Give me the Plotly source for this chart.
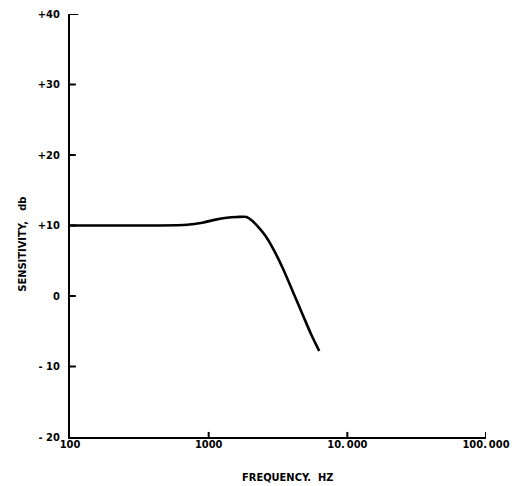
import plotly.graph_objects as go

# Frequency response: sensitivity (dB) versus frequency (Hz)
freq_hz = [100, 200, 400, 700, 900, 1100, 1350, 1600, 1880, 2050, 2250,
           2550, 2900, 3450, 4070, 4800, 5500, 6270]
sensitivity_db = [10.0, 10.0, 10.0, 10.1, 10.4, 10.8, 11.1, 11.2, 11.2, 10.7,
                  9.9, 8.6, 6.8, 3.8, 0.5, -2.8, -5.5, -7.8]

x_tick_vals = [100, 1000, 10000, 100000]
x_tick_text = ["100", "1000", "10.\u2009000", "100.\u2009000"]
y_tick_vals = [40, 30, 20, 10, 0, -10, -20]
y_tick_text = ["+40", "+30", "+20", "+10", "0", "- 10", "- 20"]

FONT = "DejaVu Sans Condensed, Liberation Sans Narrow, Roboto, sans-serif"
TXT = dict(family=FONT, size=11, color="black", weight=600)

fig = go.Figure()
fig.add_trace(go.Scatter(
    x=freq_hz, y=sensitivity_db, mode="lines",
    line=dict(color="black", width=2.6, shape="spline", smoothing=0.8),
    showlegend=False, hoverinfo="skip",
))

# Short inward tick marks along both axes
for v in y_tick_vals[:-1]:
    fig.add_shape(type="line", xref="x domain", yref="y",
                  x0=0, x1=0.02 if v == 40 else 0.014, y0=v, y1=v,
                  line=dict(color="black", width=2))
for v in x_tick_vals[1:]:
    fig.add_shape(type="line", xref="x", yref="y domain",
                  x0=v, x1=v, y0=0, y1=0.012,
                  line=dict(color="black", width=2))

fig.update_layout(
    width=513, height=486,
    margin=dict(l=70, r=27, t=14, b=49),
    paper_bgcolor="white", plot_bgcolor="white",
    font=TXT,
    xaxis=dict(
        type="log", range=[2, 5], automargin=False,
        tickvals=x_tick_vals, ticktext=x_tick_text, ticks="",
        showline=True, linecolor="black", linewidth=2,
        showgrid=False, zeroline=False,
        ticklabelstandoff=-4, tickfont=TXT,
    ),
    yaxis=dict(
        range=[-20, 40], automargin=False,
        tickvals=y_tick_vals, ticktext=y_tick_text, ticks="",
        showline=True, linecolor="black", linewidth=2,
        showgrid=False, zeroline=False,
        ticklabelstandoff=6, tickfont=TXT,
    ),
    annotations=[
        dict(text="FREQUENCY.  HZ", xref="paper", yref="paper",
             x=0.5225, y=-0.095, xanchor="center", yanchor="middle",
             showarrow=False, font=TXT),
        dict(text="SENSITIVITY,   db", xref="paper", yref="paper",
             x=-0.115, y=0.455, xanchor="center", yanchor="middle",
             textangle=-90, showarrow=False, font=TXT),
    ],
)

fig.write_html("out.html")
